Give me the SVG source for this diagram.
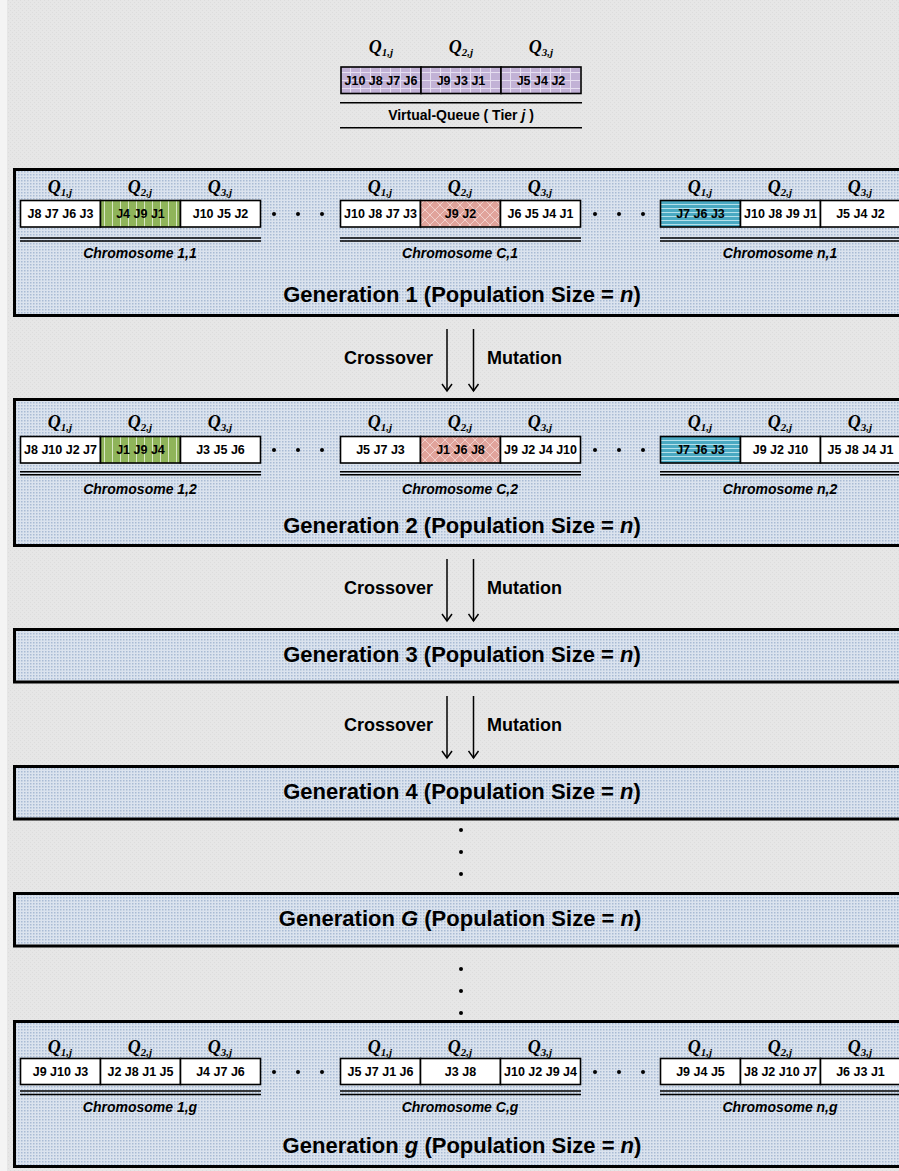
<svg xmlns="http://www.w3.org/2000/svg" width="899" height="1171" viewBox="0 0 899 1171">
<defs>
<pattern id="bg" width="4" height="4" patternUnits="userSpaceOnUse"><rect width="4" height="4" fill="#e6e6e6"/><rect x="0" y="0" width="1" height="1" fill="#dcdcdc"/><rect x="2" y="2" width="1" height="1" fill="#dcdcdc"/></pattern>
<pattern id="blue" width="3" height="3" patternUnits="userSpaceOnUse"><rect width="3" height="3" fill="#dbe3ee"/><rect x="0" y="0" width="1.5" height="1.5" fill="#a9bbd4"/></pattern>
<pattern id="purple" width="10" height="8" patternUnits="userSpaceOnUse"><rect width="10" height="8" fill="#c2b2d6"/><rect x="0" y="0" width="1" height="8" fill="#e6dff0"/><rect x="0" y="0" width="10" height="1" fill="#e6dff0"/></pattern>
<pattern id="green" width="8" height="8" patternUnits="userSpaceOnUse"><rect width="8" height="8" fill="#8fb45a"/><rect x="0" y="0" width="1" height="8" fill="#d9e8c4"/></pattern>
<pattern id="red" width="10" height="10" patternUnits="userSpaceOnUse"><rect width="10" height="10" fill="#e0a39b"/><path d="M0,5 L5,0 L10,5 L5,10 Z" fill="none" stroke="#f4dcd8" stroke-width="0.8"/></pattern>
<pattern id="cyan" width="8" height="4" patternUnits="userSpaceOnUse"><rect width="8" height="4" fill="#4aa9c2"/><rect x="0" y="0" width="8" height="1" fill="#b5e0ea"/></pattern>
<marker id="ah" markerWidth="12" markerHeight="12" refX="10" refY="6" orient="auto" markerUnits="userSpaceOnUse" viewBox="0 0 12 12"><path d="M3,1 L10,6 L3,11" fill="none" stroke="#000" stroke-width="1.5"/></marker>
<style>
.gen{fill:url(#blue);stroke:#000;stroke-width:3}
.cell{stroke:#000;stroke-width:1.6}
.ct{font-family:"Liberation Sans",Arial,sans-serif;font-weight:bold;font-size:12.5px;text-anchor:middle;fill:#000}
.q{font-family:"Liberation Serif","Times New Roman",serif;font-weight:bold;font-style:italic;font-size:18px;text-anchor:middle;fill:#000}
.sub{font-size:11px}
.chr{font-family:"Liberation Sans",Arial,sans-serif;font-weight:bold;font-style:italic;font-size:14px;text-anchor:middle;fill:#000}
.vq{font-family:"Liberation Sans",Arial,sans-serif;font-weight:bold;font-size:14px;text-anchor:middle;fill:#000}
.gt{font-family:"Liberation Sans",Arial,sans-serif;font-weight:bold;font-size:22px;text-anchor:middle;fill:#000}
.it{font-style:italic}
.lbl{font-family:"Liberation Sans",Arial,sans-serif;font-weight:bold;font-size:18px;fill:#000}
.dl{stroke:#000;stroke-width:1.6}
.arr{stroke:#000;stroke-width:1.5;fill:none;marker-end:url(#ah)}
</style>
</defs>
<rect width="899" height="1171" fill="url(#bg)"/>
<rect width="7" height="1171" fill="#f4f4f4"/>

<g id="virtual-queue">
<text class="q" x="381" y="53">Q<tspan class="sub" dy="3">1,j</tspan></text>
<text class="q" x="461" y="53">Q<tspan class="sub" dy="3">2,j</tspan></text>
<text class="q" x="541" y="53">Q<tspan class="sub" dy="3">3,j</tspan></text>
<rect class="cell" x="341" y="67" width="80" height="26.5" fill="url(#purple)"/>
<rect class="cell" x="421" y="67" width="80" height="26.5" fill="url(#purple)"/>
<rect class="cell" x="501" y="67" width="80" height="26.5" fill="url(#purple)"/>
<text class="ct" x="381" y="84.5">J10 J8 J7 J6</text>
<text class="ct" x="461" y="84.5">J9 J3 J1</text>
<text class="ct" x="541" y="84.5">J5 J4 J2</text>
<line class="dl" x1="340" y1="102.7" x2="582" y2="102.7"/>
<line class="dl" x1="340" y1="127.7" x2="582" y2="127.7"/>
<text class="vq" x="461" y="120">Virtual-Queue ( Tier <tspan class="it">j</tspan> )</text>
</g>

<g id="generation-1">
<rect class="gen" x="14.5" y="169.5" width="900" height="146"/>
<text class="q" x="60" y="193">Q<tspan class="sub" dy="3">1,j</tspan></text>
<text class="q" x="140" y="193">Q<tspan class="sub" dy="3">2,j</tspan></text>
<text class="q" x="220" y="193">Q<tspan class="sub" dy="3">3,j</tspan></text>
<rect class="cell" x="20.5" y="200.5" width="80" height="26.5" fill="#fff"/>
<rect class="cell" x="100.5" y="200.5" width="80" height="26.5" fill="url(#green)"/>
<rect class="cell" x="180.5" y="200.5" width="80" height="26.5" fill="#fff"/>
<text class="ct" x="60.5" y="218">J8 J7 J6 J3</text>
<text class="ct" x="140.5" y="218">J4 J9 J1</text>
<text class="ct" x="220.5" y="218">J10 J5 J2</text>
<line class="dl" x1="20" y1="238" x2="261" y2="238"/>
<line class="dl" x1="20" y1="241" x2="261" y2="241"/>
<text class="chr" x="140" y="258">Chromosome 1,1</text>
<circle cx="274" cy="214" r="2"/><circle cx="298" cy="214" r="2"/><circle cx="322" cy="214" r="2"/>
<text class="q" x="380" y="193">Q<tspan class="sub" dy="3">1,j</tspan></text>
<text class="q" x="460" y="193">Q<tspan class="sub" dy="3">2,j</tspan></text>
<text class="q" x="540" y="193">Q<tspan class="sub" dy="3">3,j</tspan></text>
<rect class="cell" x="340.5" y="200.5" width="80" height="26.5" fill="#fff"/>
<rect class="cell" x="420.5" y="200.5" width="80" height="26.5" fill="url(#red)"/>
<rect class="cell" x="500.5" y="200.5" width="80" height="26.5" fill="#fff"/>
<text class="ct" x="380.5" y="218">J10 J8 J7 J3</text>
<text class="ct" x="460.5" y="218">J9 J2</text>
<text class="ct" x="540.5" y="218">J6 J5 J4 J1</text>
<line class="dl" x1="340" y1="238" x2="581" y2="238"/>
<line class="dl" x1="340" y1="241" x2="581" y2="241"/>
<text class="chr" x="460" y="258">Chromosome C,1</text>
<circle cx="595" cy="214" r="2"/><circle cx="619" cy="214" r="2"/><circle cx="643" cy="214" r="2"/>
<text class="q" x="700" y="193">Q<tspan class="sub" dy="3">1,j</tspan></text>
<text class="q" x="780" y="193">Q<tspan class="sub" dy="3">2,j</tspan></text>
<text class="q" x="860" y="193">Q<tspan class="sub" dy="3">3,j</tspan></text>
<rect class="cell" x="660.5" y="200.5" width="80" height="26.5" fill="url(#cyan)"/>
<rect class="cell" x="740.5" y="200.5" width="80" height="26.5" fill="#fff"/>
<rect class="cell" x="820.5" y="200.5" width="80" height="26.5" fill="#fff"/>
<text class="ct" x="700.5" y="218">J7 J6 J3</text>
<text class="ct" x="780.5" y="218">J10 J8 J9 J1</text>
<text class="ct" x="860.5" y="218">J5 J4 J2</text>
<line class="dl" x1="660" y1="238" x2="899" y2="238"/>
<line class="dl" x1="660" y1="241" x2="899" y2="241"/>
<text class="chr" x="780" y="258">Chromosome n,1</text>
<text class="gt" x="462" y="302">Generation 1 (Population Size = <tspan class="it">n</tspan>)</text>
</g>

<g id="generation-2">
<rect class="gen" x="14.5" y="399.5" width="900" height="146"/>
<text class="q" x="60" y="428">Q<tspan class="sub" dy="3">1,j</tspan></text>
<text class="q" x="140" y="428">Q<tspan class="sub" dy="3">2,j</tspan></text>
<text class="q" x="220" y="428">Q<tspan class="sub" dy="3">3,j</tspan></text>
<rect class="cell" x="20.5" y="436.5" width="80" height="26.5" fill="#fff"/>
<rect class="cell" x="100.5" y="436.5" width="80" height="26.5" fill="url(#green)"/>
<rect class="cell" x="180.5" y="436.5" width="80" height="26.5" fill="#fff"/>
<text class="ct" x="60.5" y="454">J8 J10 J2 J7</text>
<text class="ct" x="140.5" y="454">J1 J9 J4</text>
<text class="ct" x="220.5" y="454">J3 J5 J6</text>
<line class="dl" x1="20" y1="471.7" x2="261" y2="471.7"/>
<line class="dl" x1="20" y1="474.7" x2="261" y2="474.7"/>
<text class="chr" x="140" y="494">Chromosome 1,2</text>
<circle cx="274" cy="450" r="2"/><circle cx="298" cy="450" r="2"/><circle cx="322" cy="450" r="2"/>
<text class="q" x="380" y="428">Q<tspan class="sub" dy="3">1,j</tspan></text>
<text class="q" x="460" y="428">Q<tspan class="sub" dy="3">2,j</tspan></text>
<text class="q" x="540" y="428">Q<tspan class="sub" dy="3">3,j</tspan></text>
<rect class="cell" x="340.5" y="436.5" width="80" height="26.5" fill="#fff"/>
<rect class="cell" x="420.5" y="436.5" width="80" height="26.5" fill="url(#red)"/>
<rect class="cell" x="500.5" y="436.5" width="80" height="26.5" fill="#fff"/>
<text class="ct" x="380.5" y="454">J5 J7 J3</text>
<text class="ct" x="460.5" y="454">J1 J6 J8</text>
<text class="ct" x="540.5" y="454">J9 J2 J4 J10</text>
<line class="dl" x1="340" y1="471.7" x2="581" y2="471.7"/>
<line class="dl" x1="340" y1="474.7" x2="581" y2="474.7"/>
<text class="chr" x="460" y="494">Chromosome C,2</text>
<circle cx="595" cy="450" r="2"/><circle cx="619" cy="450" r="2"/><circle cx="643" cy="450" r="2"/>
<text class="q" x="700" y="428">Q<tspan class="sub" dy="3">1,j</tspan></text>
<text class="q" x="780" y="428">Q<tspan class="sub" dy="3">2,j</tspan></text>
<text class="q" x="860" y="428">Q<tspan class="sub" dy="3">3,j</tspan></text>
<rect class="cell" x="660.5" y="436.5" width="80" height="26.5" fill="url(#cyan)"/>
<rect class="cell" x="740.5" y="436.5" width="80" height="26.5" fill="#fff"/>
<rect class="cell" x="820.5" y="436.5" width="80" height="26.5" fill="#fff"/>
<text class="ct" x="700.5" y="454">J7 J6 J3</text>
<text class="ct" x="780.5" y="454">J9 J2 J10</text>
<text class="ct" x="860.5" y="454">J5 J8 J4 J1</text>
<line class="dl" x1="660" y1="471.7" x2="899" y2="471.7"/>
<line class="dl" x1="660" y1="474.7" x2="899" y2="474.7"/>
<text class="chr" x="780" y="494">Chromosome n,2</text>
<text class="gt" x="462" y="533">Generation 2 (Population Size = <tspan class="it">n</tspan>)</text>
</g>

<g id="generation-3">
<rect class="gen" x="14.5" y="629.5" width="900" height="52.5"/>
<text class="gt" x="462" y="662">Generation 3 (Population Size = <tspan class="it">n</tspan>)</text>
</g>

<g id="generation-4">
<rect class="gen" x="14.5" y="766.5" width="900" height="52.5"/>
<text class="gt" x="462" y="799">Generation 4 (Population Size = <tspan class="it">n</tspan>)</text>
</g>

<g id="generation-G">
<rect class="gen" x="14.5" y="893.5" width="900" height="52.5"/>
<text class="gt" x="460" y="926">Generation <tspan class="it">G</tspan> (Population Size = <tspan class="it">n</tspan>)</text>
</g>

<g id="generation-g">
<rect class="gen" x="14.5" y="1021.5" width="900" height="145"/>
<text class="q" x="60" y="1053">Q<tspan class="sub" dy="3">1,j</tspan></text>
<text class="q" x="140" y="1053">Q<tspan class="sub" dy="3">2,j</tspan></text>
<text class="q" x="220" y="1053">Q<tspan class="sub" dy="3">3,j</tspan></text>
<rect class="cell" x="20.5" y="1058.5" width="80" height="26" fill="#fff"/>
<rect class="cell" x="100.5" y="1058.5" width="80" height="26" fill="#fff"/>
<rect class="cell" x="180.5" y="1058.5" width="80" height="26" fill="#fff"/>
<text class="ct" x="60.5" y="1076">J9 J10 J3</text>
<text class="ct" x="140.5" y="1076">J2 J8 J1 J5</text>
<text class="ct" x="220.5" y="1076">J4 J7 J6</text>
<line class="dl" x1="20" y1="1091" x2="261" y2="1091"/>
<line class="dl" x1="20" y1="1094.5" x2="261" y2="1094.5"/>
<text class="chr" x="140" y="1112">Chromosome 1,g</text>
<circle cx="274" cy="1072" r="2"/><circle cx="298" cy="1072" r="2"/><circle cx="322" cy="1072" r="2"/>
<text class="q" x="380" y="1053">Q<tspan class="sub" dy="3">1,j</tspan></text>
<text class="q" x="460" y="1053">Q<tspan class="sub" dy="3">2,j</tspan></text>
<text class="q" x="540" y="1053">Q<tspan class="sub" dy="3">3,j</tspan></text>
<rect class="cell" x="340.5" y="1058.5" width="80" height="26" fill="#fff"/>
<rect class="cell" x="420.5" y="1058.5" width="80" height="26" fill="#fff"/>
<rect class="cell" x="500.5" y="1058.5" width="80" height="26" fill="#fff"/>
<text class="ct" x="380.5" y="1076">J5 J7 J1 J6</text>
<text class="ct" x="460.5" y="1076">J3 J8</text>
<text class="ct" x="540.5" y="1076">J10 J2 J9 J4</text>
<line class="dl" x1="340" y1="1091" x2="581" y2="1091"/>
<line class="dl" x1="340" y1="1094.5" x2="581" y2="1094.5"/>
<text class="chr" x="460" y="1112">Chromosome C,g</text>
<circle cx="595" cy="1072" r="2"/><circle cx="619" cy="1072" r="2"/><circle cx="643" cy="1072" r="2"/>
<text class="q" x="700" y="1053">Q<tspan class="sub" dy="3">1,j</tspan></text>
<text class="q" x="780" y="1053">Q<tspan class="sub" dy="3">2,j</tspan></text>
<text class="q" x="860" y="1053">Q<tspan class="sub" dy="3">3,j</tspan></text>
<rect class="cell" x="660.5" y="1058.5" width="80" height="26" fill="#fff"/>
<rect class="cell" x="740.5" y="1058.5" width="80" height="26" fill="#fff"/>
<rect class="cell" x="820.5" y="1058.5" width="80" height="26" fill="#fff"/>
<text class="ct" x="700.5" y="1076">J9 J4 J5</text>
<text class="ct" x="780.5" y="1076">J8 J2 J10 J7</text>
<text class="ct" x="860.5" y="1076">J6 J3 J1</text>
<line class="dl" x1="660" y1="1091" x2="899" y2="1091"/>
<line class="dl" x1="660" y1="1094.5" x2="899" y2="1094.5"/>
<text class="chr" x="780" y="1112">Chromosome n,g</text>
<text class="gt" x="462" y="1153">Generation <tspan class="it">g</tspan> (Population Size = <tspan class="it">n</tspan>)</text>
</g>

<g id="connectors">
<line class="arr" x1="447" y1="329" x2="447" y2="391"/>
<line class="arr" x1="473.5" y1="329" x2="473.5" y2="391"/>
<text class="lbl" x="433" y="364" text-anchor="end">Crossover</text>
<text class="lbl" x="487" y="364">Mutation</text>
<line class="arr" x1="447" y1="559" x2="447" y2="621"/>
<line class="arr" x1="473.5" y1="559" x2="473.5" y2="621"/>
<text class="lbl" x="433" y="594" text-anchor="end">Crossover</text>
<text class="lbl" x="487" y="594">Mutation</text>
<line class="arr" x1="447" y1="696" x2="447" y2="758"/>
<line class="arr" x1="473.5" y1="696" x2="473.5" y2="758"/>
<text class="lbl" x="433" y="731" text-anchor="end">Crossover</text>
<text class="lbl" x="487" y="731">Mutation</text>
<circle cx="461" cy="830" r="2"/><circle cx="461" cy="852" r="2"/><circle cx="461" cy="874" r="2"/>
<circle cx="461" cy="969" r="2"/><circle cx="461" cy="991" r="2"/><circle cx="461" cy="1013" r="2"/>
</g>
</svg>
